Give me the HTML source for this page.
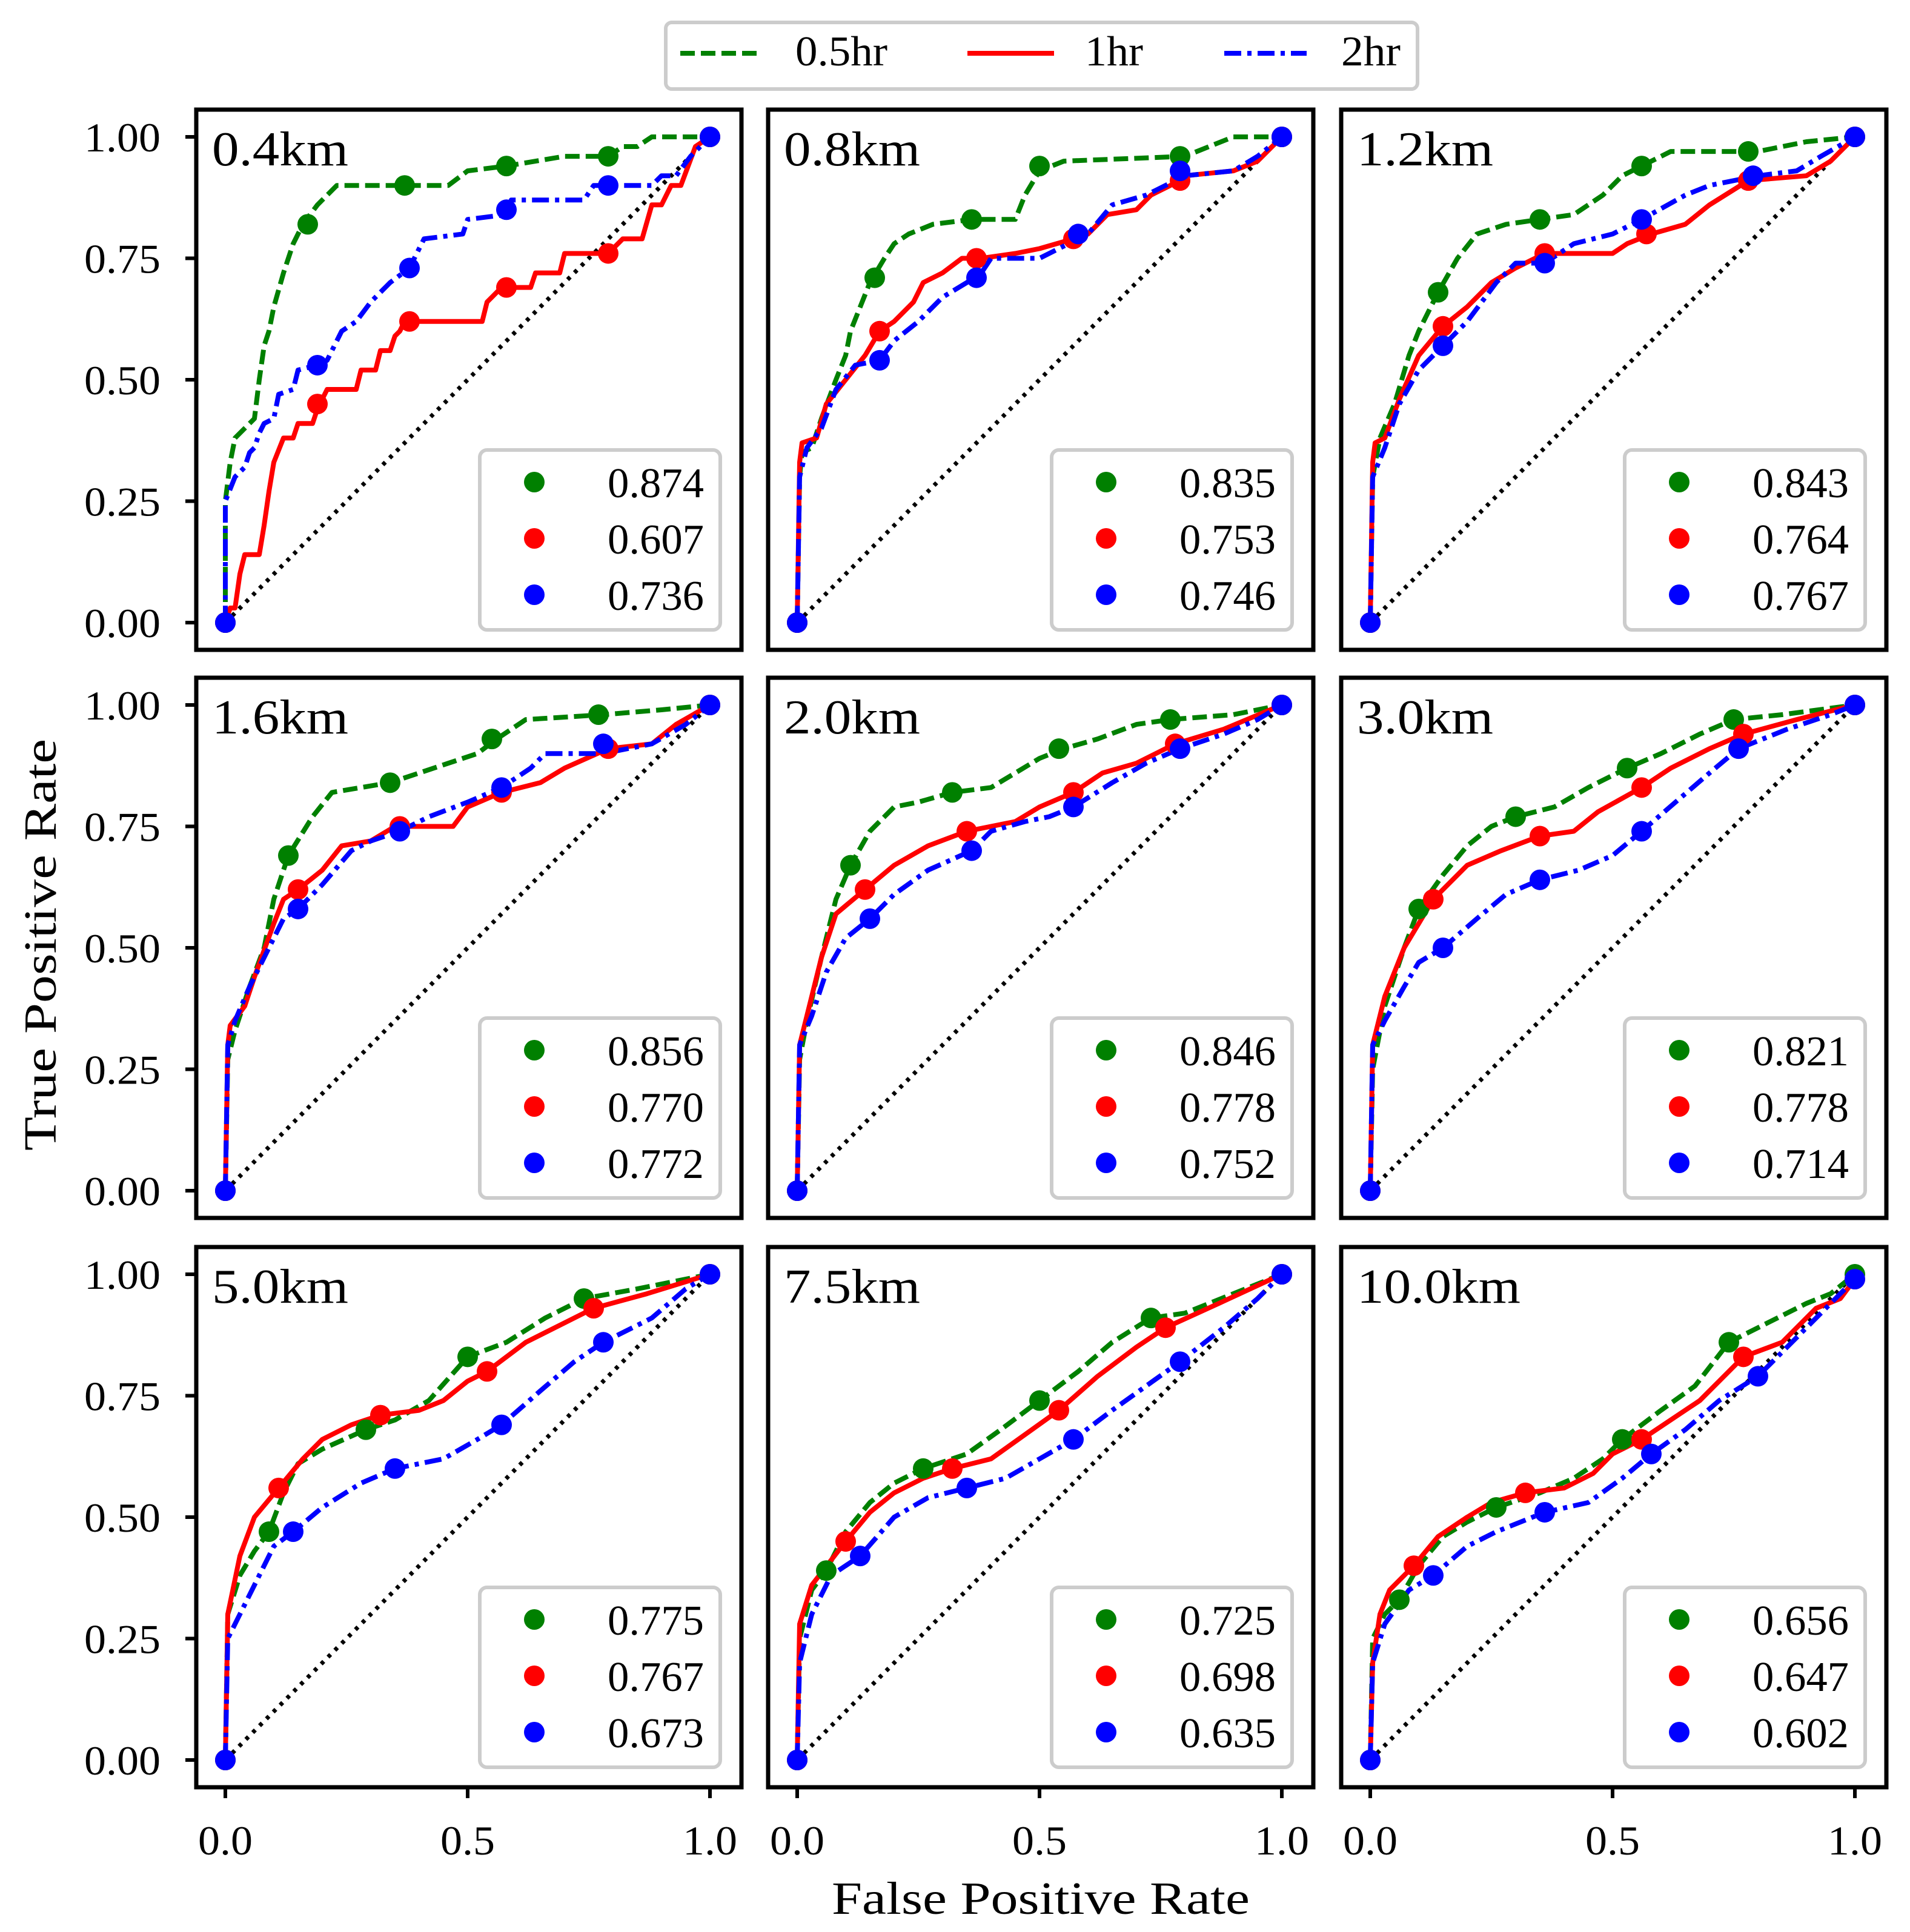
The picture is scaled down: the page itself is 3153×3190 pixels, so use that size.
<!DOCTYPE html>
<html><head><meta charset="utf-8">
<style>
html,body{margin:0;padding:0;background:#fff;}
svg{display:block;font-family:"Liberation Serif",serif;}
</style></head>
<body>
<svg id="fig" width="3153" height="3190" viewBox="0 0 3153 3190" xmlns="http://www.w3.org/2000/svg">
<rect x="0" y="0" width="3153" height="3190" fill="#fff"/>
<g>
<rect x="1099" y="37" width="1241" height="110" rx="10" fill="#fff" stroke="#cccccc" stroke-width="6"/>
<line x1="1123" y1="88" x2="1256" y2="88" stroke="#008000" stroke-width="8" stroke-dasharray="24,10"/>
<text x="1313" y="108" font-size="70" textLength="152" lengthAdjust="spacingAndGlyphs">0.5hr</text>
<line x1="1597" y1="88" x2="1740" y2="88" stroke="#ff0000" stroke-width="8"/>
<text x="1791" y="108" font-size="70" textLength="96" lengthAdjust="spacingAndGlyphs">1hr</text>
<line x1="2021" y1="88" x2="2157" y2="88" stroke="#0000ff" stroke-width="8" stroke-dasharray="28,10,7,10"/>
<text x="2214" y="108" font-size="70" textLength="98" lengthAdjust="spacingAndGlyphs">2hr</text>
</g>
<text x="1718" y="3160" font-size="76" text-anchor="middle" textLength="690" lengthAdjust="spacingAndGlyphs">False Positive Rate</text>
<text transform="translate(92,1560) rotate(-90)" font-size="76" text-anchor="middle" textLength="680" lengthAdjust="spacingAndGlyphs">True Positive Rate</text>
<g id="panels"></g>
</svg>
<script>
const panelLabels = ["0.4km","0.8km","1.2km","1.6km","2.0km","3.0km","5.0km","7.5km","10.0km"];
const aucGreen = ["0.874","0.835","0.843","0.856","0.846","0.821","0.775","0.725","0.656"];
const aucRed   = ["0.607","0.753","0.764","0.770","0.778","0.778","0.767","0.698","0.647"];
const aucBlue  = ["0.736","0.746","0.767","0.772","0.752","0.714","0.673","0.635","0.602"];
const xTicks = [0.0, 0.5, 1.0];
const xTickLabels = ["0.0","0.5","1.0"];
const yTicks = [0, 0.25, 0.5, 0.75, 1.0];
const yTickLabels = ["0.00","0.25","0.50","0.75","1.00"];

const greenCurves = [
[[0,0],[0,0.25],[0.01,0.33],[0.02,0.38],[0.04,0.40],[0.06,0.42],[0.07,0.5],[0.08,0.57],[0.09,0.6],[0.1,0.65],[0.12,0.72],[0.14,0.78],[0.16,0.82],[0.19,0.86],[0.23,0.9],[0.37,0.9],[0.46,0.9],[0.5,0.93],[0.58,0.94],[0.7,0.96],[0.79,0.96],[0.82,0.98],[0.85,0.98],[0.88,1],[1,1]],
[[0,0],[0.005,0.3],[0.01,0.35],[0.03,0.36],[0.05,0.42],[0.08,0.5],[0.1,0.55],[0.11,0.6],[0.13,0.65],[0.15,0.7],[0.18,0.75],[0.2,0.78],[0.23,0.8],[0.28,0.82],[0.36,0.83],[0.45,0.83],[0.47,0.88],[0.5,0.93],[0.55,0.95],[0.8,0.96],[0.85,0.98],[0.9,1],[1,1]],
[[0,0],[0.005,0.3],[0.02,0.38],[0.05,0.45],[0.08,0.55],[0.1,0.6],[0.14,0.68],[0.18,0.75],[0.22,0.8],[0.28,0.82],[0.35,0.83],[0.42,0.84],[0.48,0.88],[0.52,0.92],[0.56,0.94],[0.62,0.97],[0.8,0.97],[0.9,0.99],[1,1]],
[[0,0],[0.005,0.27],[0.02,0.33],[0.05,0.42],[0.08,0.5],[0.1,0.6],[0.13,0.69],[0.18,0.77],[0.22,0.82],[0.28,0.83],[0.34,0.84],[0.4,0.86],[0.46,0.88],[0.52,0.9],[0.56,0.93],[0.62,0.97],[0.78,0.98],[0.9,0.99],[1,1]],
[[0,0],[0.005,0.27],[0.02,0.35],[0.05,0.48],[0.08,0.6],[0.11,0.67],[0.15,0.74],[0.2,0.79],[0.25,0.8],[0.32,0.82],[0.4,0.83],[0.45,0.86],[0.5,0.89],[0.55,0.91],[0.62,0.93],[0.7,0.96],[0.77,0.97],[0.9,0.98],[1,1]],
[[0,0],[0.005,0.25],[0.03,0.38],[0.07,0.5],[0.1,0.58],[0.15,0.65],[0.2,0.71],[0.25,0.75],[0.3,0.77],[0.38,0.79],[0.45,0.83],[0.53,0.87],[0.6,0.9],[0.68,0.94],[0.75,0.97],[0.85,0.98],[1,1]],
[[0,0],[0.005,0.3],[0.03,0.38],[0.06,0.43],[0.09,0.47],[0.12,0.55],[0.15,0.61],[0.2,0.64],[0.29,0.68],[0.35,0.7],[0.42,0.74],[0.5,0.83],[0.58,0.86],[0.66,0.91],[0.74,0.95],[0.85,0.97],[1,1]],
[[0,0],[0.005,0.25],[0.03,0.35],[0.06,0.39],[0.1,0.47],[0.15,0.53],[0.2,0.57],[0.26,0.6],[0.35,0.63],[0.42,0.68],[0.5,0.74],[0.58,0.8],[0.65,0.86],[0.73,0.91],[0.8,0.92],[0.9,0.96],[1,1]],
[[0,0],[0.005,0.25],[0.03,0.3],[0.06,0.33],[0.1,0.4],[0.15,0.46],[0.2,0.49],[0.26,0.52],[0.35,0.55],[0.42,0.58],[0.48,0.62],[0.52,0.66],[0.6,0.72],[0.67,0.77],[0.74,0.86],[0.82,0.9],[0.9,0.94],[0.95,0.96],[1,1]]
];
const redCurves = [
[[0,0],[0.01,0.03],[0.02,0.03],[0.03,0.1],[0.04,0.14],[0.07,0.14],[0.08,0.2],[0.09,0.27],[0.1,0.33],[0.12,0.38],[0.14,0.38],[0.15,0.41],[0.18,0.41],[0.19,0.44],[0.21,0.48],[0.27,0.48],[0.28,0.52],[0.31,0.52],[0.32,0.56],[0.34,0.56],[0.35,0.59],[0.36,0.6],[0.37,0.62],[0.53,0.62],[0.54,0.66],[0.55,0.67],[0.57,0.69],[0.63,0.69],[0.64,0.72],[0.69,0.72],[0.7,0.76],[0.79,0.76],[0.82,0.79],[0.86,0.79],[0.88,0.86],[0.9,0.86],[0.92,0.9],[0.94,0.9],[0.97,0.98],[1,1]],
[[0,0],[0.005,0.33],[0.01,0.37],[0.04,0.38],[0.06,0.45],[0.1,0.5],[0.14,0.55],[0.17,0.6],[0.2,0.62],[0.24,0.66],[0.26,0.7],[0.3,0.72],[0.34,0.75],[0.38,0.75],[0.45,0.76],[0.5,0.77],[0.57,0.79],[0.6,0.8],[0.64,0.84],[0.7,0.85],[0.73,0.88],[0.77,0.9],[0.8,0.92],[0.9,0.93],[0.95,0.95],[1,1]],
[[0,0],[0.005,0.33],[0.01,0.37],[0.03,0.38],[0.06,0.46],[0.1,0.55],[0.15,0.61],[0.2,0.65],[0.25,0.7],[0.3,0.73],[0.36,0.76],[0.45,0.76],[0.5,0.76],[0.53,0.78],[0.58,0.8],[0.65,0.82],[0.7,0.86],[0.78,0.91],[0.9,0.92],[0.95,0.95],[1,1]],
[[0,0],[0.005,0.3],[0.01,0.34],[0.04,0.38],[0.06,0.44],[0.1,0.55],[0.12,0.6],[0.15,0.62],[0.2,0.66],[0.24,0.71],[0.3,0.72],[0.35,0.75],[0.47,0.75],[0.5,0.79],[0.57,0.82],[0.65,0.84],[0.7,0.87],[0.79,0.91],[0.88,0.92],[0.93,0.96],[1,1]],
[[0,0],[0.005,0.3],[0.02,0.36],[0.05,0.48],[0.08,0.57],[0.14,0.62],[0.2,0.67],[0.27,0.71],[0.35,0.74],[0.45,0.76],[0.5,0.79],[0.57,0.82],[0.63,0.86],[0.7,0.88],[0.78,0.92],[0.88,0.95],[1,1]],
[[0,0],[0.005,0.3],[0.03,0.4],[0.07,0.5],[0.13,0.6],[0.2,0.67],[0.27,0.7],[0.35,0.73],[0.42,0.74],[0.47,0.78],[0.56,0.83],[0.62,0.87],[0.7,0.91],[0.77,0.94],[0.88,0.97],[1,1]],
[[0,0],[0.005,0.3],[0.03,0.42],[0.06,0.5],[0.11,0.56],[0.16,0.62],[0.2,0.66],[0.26,0.69],[0.32,0.71],[0.4,0.72],[0.45,0.74],[0.5,0.78],[0.54,0.8],[0.62,0.86],[0.7,0.9],[0.76,0.93],[0.87,0.96],[1,1]],
[[0,0],[0.005,0.28],[0.03,0.36],[0.1,0.45],[0.15,0.51],[0.2,0.55],[0.26,0.58],[0.32,0.6],[0.4,0.62],[0.47,0.67],[0.54,0.72],[0.62,0.79],[0.7,0.85],[0.76,0.89],[0.87,0.94],[1,1]],
[[0,0],[0.005,0.2],[0.02,0.3],[0.04,0.35],[0.09,0.4],[0.14,0.46],[0.2,0.5],[0.25,0.53],[0.32,0.55],[0.4,0.56],[0.46,0.59],[0.5,0.63],[0.56,0.66],[0.62,0.7],[0.68,0.74],[0.72,0.78],[0.77,0.83],[0.85,0.86],[0.92,0.93],[0.97,0.95],[1,0.99]]
];
const blueCurves = [
[[0,0],[0,0.25],[0.02,0.3],[0.04,0.32],[0.05,0.35],[0.06,0.36],[0.07,0.39],[0.08,0.41],[0.1,0.42],[0.11,0.47],[0.14,0.48],[0.15,0.52],[0.19,0.53],[0.21,0.54],[0.23,0.58],[0.24,0.6],[0.27,0.62],[0.3,0.66],[0.32,0.68],[0.34,0.7],[0.38,0.73],[0.41,0.79],[0.49,0.8],[0.5,0.83],[0.58,0.84],[0.59,0.87],[0.74,0.87],[0.76,0.9],[0.88,0.9],[0.9,0.92],[0.93,0.92],[0.96,0.96],[1,1]],
[[0,0],[0.005,0.3],[0.02,0.36],[0.05,0.4],[0.08,0.48],[0.12,0.53],[0.17,0.54],[0.2,0.58],[0.25,0.62],[0.3,0.67],[0.35,0.7],[0.38,0.72],[0.4,0.75],[0.5,0.75],[0.56,0.78],[0.6,0.8],[0.65,0.86],[0.72,0.88],[0.8,0.92],[0.9,0.93],[0.95,0.96],[1,1]],
[[0,0],[0.005,0.3],[0.03,0.36],[0.06,0.45],[0.1,0.52],[0.15,0.57],[0.2,0.62],[0.26,0.7],[0.3,0.74],[0.36,0.74],[0.42,0.78],[0.5,0.8],[0.56,0.83],[0.65,0.88],[0.7,0.9],[0.8,0.92],[0.88,0.93],[0.93,0.96],[1,1]],
[[0,0],[0.005,0.3],[0.02,0.35],[0.05,0.42],[0.09,0.5],[0.12,0.56],[0.15,0.58],[0.2,0.63],[0.26,0.7],[0.3,0.72],[0.36,0.74],[0.42,0.77],[0.5,0.8],[0.57,0.83],[0.63,0.87],[0.66,0.9],[0.78,0.9],[0.88,0.92],[0.95,0.96],[1,1]],
[[0,0],[0.005,0.3],[0.03,0.36],[0.06,0.45],[0.1,0.52],[0.15,0.56],[0.2,0.61],[0.27,0.66],[0.36,0.7],[0.4,0.74],[0.47,0.76],[0.52,0.77],[0.57,0.79],[0.65,0.84],[0.72,0.88],[0.79,0.91],[0.88,0.94],[0.95,0.97],[1,1]],
[[0,0],[0.005,0.3],[0.03,0.35],[0.07,0.42],[0.1,0.47],[0.15,0.5],[0.22,0.56],[0.28,0.61],[0.35,0.64],[0.43,0.66],[0.5,0.69],[0.56,0.74],[0.63,0.8],[0.7,0.86],[0.76,0.91],[0.86,0.95],[0.95,0.98],[1,1]],
[[0,0],[0.005,0.25],[0.03,0.3],[0.07,0.38],[0.1,0.44],[0.14,0.47],[0.2,0.52],[0.28,0.57],[0.35,0.6],[0.45,0.62],[0.52,0.66],[0.57,0.69],[0.65,0.76],[0.72,0.82],[0.78,0.86],[0.88,0.91],[0.95,0.97],[1,1]],
[[0,0],[0.005,0.2],[0.03,0.3],[0.07,0.38],[0.13,0.42],[0.2,0.5],[0.27,0.54],[0.35,0.56],[0.43,0.58],[0.5,0.62],[0.57,0.66],[0.65,0.72],[0.72,0.77],[0.79,0.82],[0.88,0.89],[0.95,0.95],[1,1]],
[[0,0],[0.005,0.2],[0.03,0.28],[0.08,0.35],[0.13,0.38],[0.2,0.44],[0.26,0.47],[0.36,0.51],[0.45,0.53],[0.52,0.58],[0.58,0.63],[0.65,0.68],[0.72,0.74],[0.8,0.79],[0.88,0.87],[0.95,0.94],[1,0.99]]
];
const greenMarkers = [
[[0,0],[0.17,0.82],[0.37,0.9],[0.58,0.94],[0.79,0.96],[1,1]],
[[0,0],[0.16,0.71],[0.36,0.83],[0.5,0.94],[0.79,0.96],[1,1]],
[[0,0],[0.14,0.68],[0.35,0.83],[0.56,0.94],[0.78,0.97],[1,1]],
[[0,0],[0.13,0.69],[0.34,0.84],[0.55,0.93],[0.77,0.98],[1,1]],
[[0,0],[0.11,0.67],[0.32,0.82],[0.54,0.91],[0.77,0.97],[1,1]],
[[0,0],[0.1,0.58],[0.3,0.77],[0.53,0.87],[0.75,0.97],[1,1]],
[[0,0],[0.09,0.47],[0.29,0.68],[0.5,0.83],[0.74,0.95],[1,1]],
[[0,0],[0.06,0.39],[0.26,0.6],[0.5,0.74],[0.73,0.91],[1,1]],
[[0,0],[0.06,0.33],[0.26,0.52],[0.52,0.66],[0.74,0.86],[1,1]]
];
const redMarkers = [
[[0,0],[0.19,0.45],[0.38,0.62],[0.58,0.69],[0.79,0.76],[1,1]],
[[0,0],[0.17,0.6],[0.37,0.75],[0.57,0.79],[0.79,0.91],[1,1]],
[[0,0],[0.15,0.61],[0.36,0.76],[0.57,0.8],[0.78,0.91],[1,1]],
[[0,0],[0.15,0.62],[0.36,0.75],[0.57,0.82],[0.79,0.91],[1,1]],
[[0,0],[0.14,0.62],[0.35,0.74],[0.57,0.82],[0.78,0.92],[1,1]],
[[0,0],[0.13,0.6],[0.35,0.73],[0.56,0.83],[0.77,0.94],[1,1]],
[[0,0],[0.11,0.56],[0.32,0.71],[0.54,0.8],[0.76,0.93],[1,1]],
[[0,0],[0.1,0.45],[0.32,0.6],[0.54,0.72],[0.76,0.89],[1,1]],
[[0,0],[0.09,0.4],[0.32,0.55],[0.56,0.66],[0.77,0.83],[1,0.99]]
];
const blueMarkers = [
[[0,0],[0.19,0.53],[0.38,0.73],[0.58,0.85],[0.79,0.9],[1,1]],
[[0,0],[0.17,0.54],[0.37,0.71],[0.58,0.8],[0.79,0.93],[1,1]],
[[0,0],[0.15,0.57],[0.36,0.74],[0.56,0.83],[0.79,0.92],[1,1]],
[[0,0],[0.15,0.58],[0.36,0.74],[0.57,0.83],[0.78,0.92],[1,1]],
[[0,0],[0.15,0.56],[0.36,0.7],[0.57,0.79],[0.79,0.91],[1,1]],
[[0,0],[0.15,0.5],[0.35,0.64],[0.56,0.74],[0.76,0.91],[1,1]],
[[0,0],[0.14,0.47],[0.35,0.6],[0.57,0.69],[0.78,0.86],[1,1]],
[[0,0],[0.13,0.42],[0.35,0.56],[0.57,0.66],[0.79,0.82],[1,1]],
[[0,0],[0.13,0.38],[0.36,0.51],[0.58,0.63],[0.8,0.79],[1,0.99]]
];

const NS = "http://www.w3.org/2000/svg";
const colLefts = [324, 1268, 2214];
const rowTops = [181, 1119, 2059];
const PW = 900, PH = 892;
function mk(tag, attrs, parent) {
  const e = document.createElementNS(NS, tag);
  for (const k in attrs) e.setAttribute(k, attrs[k]);
  parent.appendChild(e);
  return e;
}
const root = document.getElementById("panels");
const seriesStyles = [
  {color:"#008000", dash:"24,10", name:"0.5hr"},
  {color:"#ff0000", dash:"none", name:"1hr"},
  {color:"#0000ff", dash:"28,10,7,10", name:"2hr"}
];
for (let p = 0; p < 9; p++) {
  const r = Math.floor(p / 3), c = p % 3;
  const L = colLefts[c], T = rowTops[r];
  const xs = v => L + 48 + v * 800;
  const ys = v => T + 847 - v * 802;
  const g = mk("g", {}, root);
  
  
  const diag = mk("line", {x1: xs(0), y1: ys(0), x2: xs(1), y2: ys(1), stroke: "#000", "stroke-width": 7, "stroke-dasharray": "6,10"}, g);
  
  
  const curves = [greenCurves[p], redCurves[p], blueCurves[p]];
  const markers = [greenMarkers[p], redMarkers[p], blueMarkers[p]];
  for (let s = 0; s < 3; s++) {
    const st = seriesStyles[s];
    const d = curves[s].map((pt, i) => (i ? "L" : "M") + xs(pt[0]).toFixed(1) + " " + ys(pt[1]).toFixed(1)).join(" ");
    const path = mk("path", {d: d, fill: "none", stroke: st.color, "stroke-width": 8, "stroke-dasharray": st.dash, "stroke-linejoin": "round"}, g);
    
    
  }
  for (let s = 0; s < 3; s++) {
    const st = seriesStyles[s];
    for (const pt of markers[s]) {
      const m = mk("circle", {cx: xs(pt[0]), cy: ys(pt[1]), r: 17, fill: st.color}, g);
      
      
    }
  }
  const frame = mk("rect", {x: L, y: T, width: PW, height: PH, fill: "none", stroke: "#000", "stroke-width": 7}, g);
  
  
  const lab = mk("text", {x: L + 26, y: T + 92, "font-size": 80, textLength: 45 * panelLabels[p].length, lengthAdjust: "spacingAndGlyphs"}, g);
  lab.textContent = panelLabels[p];
  
  
  const lg = mk("g", {}, g);
  
  
  mk("rect", {x: L + 468, y: T + 562, width: 397, height: 297, rx: 12, fill: "#fff", stroke: "#cccccc", "stroke-width": 6}, lg);
  const vals = [aucGreen[p], aucRed[p], aucBlue[p]];
  for (let s = 0; s < 3; s++) {
    const yy = T + 615 + s * 93;
    const dot = mk("circle", {cx: L + 558, cy: yy, r: 17, fill: seriesStyles[s].color}, lg);
    
    
    const t = mk("text", {x: L + 838, y: yy + 25, "font-size": 70, "text-anchor": "end", textLength: 159, lengthAdjust: "spacingAndGlyphs"}, lg);
    t.textContent = vals[s];
    
    
  }
  if (c === 0) {
    yTicks.forEach((v, i) => {
      const tk = mk("line", {x1: L - 18, x2: L, y1: ys(v), y2: ys(v), stroke: "#000", "stroke-width": 6}, g);
      
      
      const tl = mk("text", {x: 265, y: ys(v) + 24, "font-size": 68, "text-anchor": "end", textLength: 126, lengthAdjust: "spacingAndGlyphs"}, g);
      tl.textContent = yTickLabels[i];
      
      
    });
  }
  if (r === 2) {
    xTicks.forEach((v, i) => {
      const tk = mk("line", {x1: xs(v), x2: xs(v), y1: T + PH, y2: T + PH + 18, stroke: "#000", "stroke-width": 6}, g);
      
      
      const tl = mk("text", {x: xs(v), y: 3062, "font-size": 68, "text-anchor": "middle", textLength: 90, lengthAdjust: "spacingAndGlyphs"}, g);
      tl.textContent = xTickLabels[i];
      
      
    });
  }
}
</script>
</body></html>
